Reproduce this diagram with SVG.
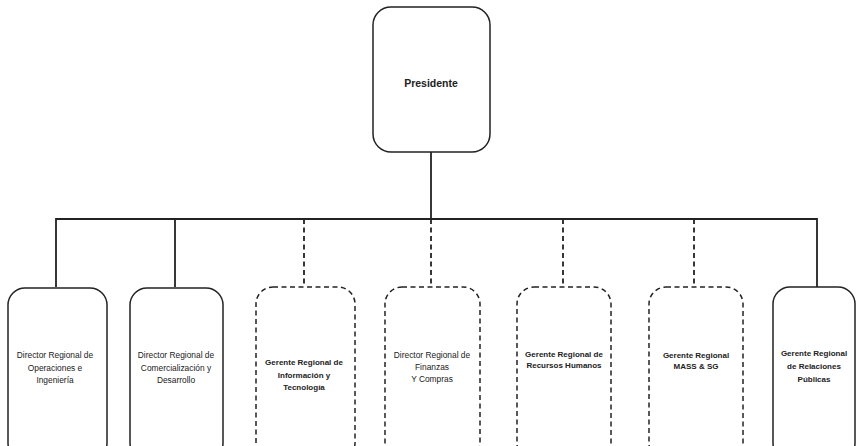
<svg xmlns="http://www.w3.org/2000/svg" width="857" height="446" viewBox="0 0 857 446">
<style>
.box{fill:#fff;stroke:#222;stroke-width:1.5}
.dash{stroke-dasharray:5 3.5}
.t{font-family:"Liberation Sans",Arial,sans-serif;font-size:8.4px;fill:#222;text-anchor:middle}
.b{font-weight:bold;font-size:8px}
.c{stroke:#222;stroke-width:1.8;fill:none}
</style>
<rect width="857" height="446" fill="#fff"/>
<g id="connectors">
<line class="c" x1="431" y1="152" x2="431" y2="219"/>
<polyline class="c" points="56,287 56,219 817,219 817,287"/>
<line class="c" x1="175" y1="219" x2="175" y2="287"/>
<line class="c dash" x1="304" y1="219" x2="304" y2="287"/>
<line class="c dash" x1="431" y1="219" x2="431" y2="287"/>
<line class="c dash" x1="563" y1="219" x2="563" y2="287"/>
<line class="c dash" x1="694" y1="219" x2="694" y2="287"/>
</g>
<g id="presidente">
<rect class="box" x="373" y="7" width="117" height="145" rx="18"/>
<text class="t b" x="431" y="87" style="font-size:10.5px">Presidente</text>
</g>
<g id="dir-operaciones">
<rect class="box" x="8" y="288" width="99" height="172" rx="17"/>
<text class="t" x="55" y="358">Director Regional de</text>
<text class="t" x="55" y="370.5">Operaciones e</text>
<text class="t" x="55" y="383">Ingeniería</text>
</g>
<g id="dir-comercializacion">
<rect class="box" x="130" y="288" width="93" height="172" rx="17"/>
<text class="t" x="176" y="358">Director Regional de</text>
<text class="t" x="176" y="370.5">Comercialización y</text>
<text class="t" x="176" y="383">Desarrollo</text>
</g>
<g id="ger-informacion">
<rect class="box dash" x="256" y="287" width="99" height="173" rx="17"/>
<text class="t b" x="304" y="365">Gerente Regional de</text>
<text class="t b" x="304" y="377.5">Información y</text>
<text class="t b" x="304" y="390">Tecnología</text>
</g>
<g id="dir-finanzas">
<rect class="box dash" x="385" y="287" width="95" height="173" rx="17"/>
<text class="t" x="432" y="358">Director Regional de</text>
<text class="t" x="432" y="369.5">Finanzas</text>
<text class="t" x="432" y="382">Y Compras</text>
</g>
<g id="ger-rrhh">
<rect class="box dash" x="517" y="287" width="94" height="173" rx="17"/>
<text class="t b" x="564" y="357">Gerente Regional de</text>
<text class="t b" x="564" y="368">Recursos Humanos</text>
</g>
<g id="ger-mass">
<rect class="box dash" x="649" y="287" width="94" height="173" rx="17"/>
<text class="t b" x="696" y="358">Gerente Regional</text>
<text class="t b" x="696" y="368.5">MASS &amp; SG</text>
</g>
<g id="ger-relaciones">
<rect class="box" x="773" y="287" width="82" height="173" rx="17"/>
<text class="t b" x="814" y="356">Gerente Regional</text>
<text class="t b" x="814" y="369">de Relaciones</text>
<text class="t b" x="814" y="382">Públicas</text>
</g>
</svg>
